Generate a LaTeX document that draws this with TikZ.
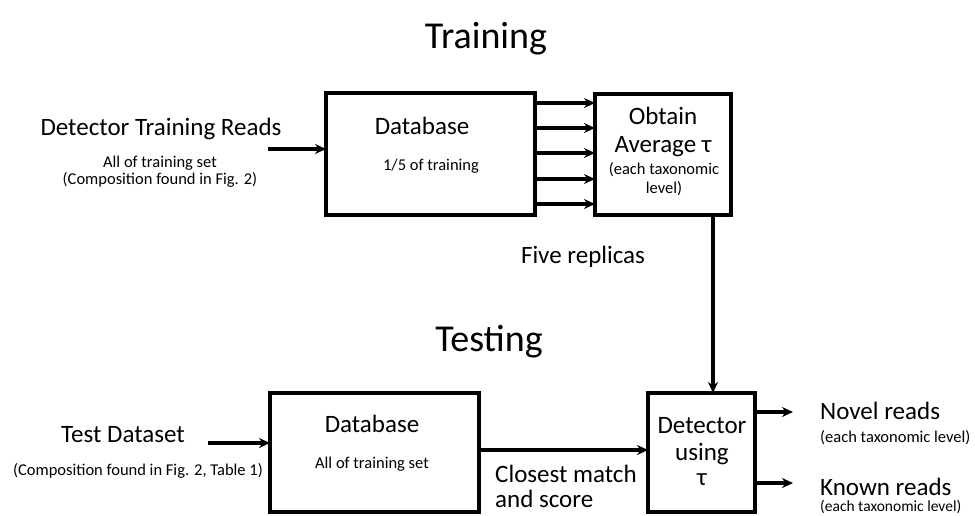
\documentclass[tikz,border=0pt]{standalone}
\usepackage{fontspec}
\setmainfont{Carlito}
\usetikzlibrary{arrows.meta}
\begin{document}
\begin{tikzpicture}[x=1pt,y=-1pt,
  box/.style={draw,line width=3.6pt},
  flow/.style={line width=3.2pt,-{Stealth[length=11pt,width=10pt]}},
  big/.style={font=\fontsize{25}{29}\selectfont,anchor=base,inner sep=0pt},
  small/.style={font=\fontsize{16.5}{19}\selectfont,anchor=base,inner sep=0pt},
  tiny/.style={font=\fontsize{15.5}{18}\selectfont,anchor=base west,inner sep=0pt},
  title/.style={font=\fontsize{38}{44}\selectfont,anchor=base,inner sep=0pt}]
\useasboundingbox (0,0) rectangle (975,515);

% section titles
\node[title] (ttrain) at (486,48) {Training};
\node[title] (ttest) at (489,351) {Testing};

% training stage
\node[big] (dtr) at (161,135) {Detector Training Reads};
\node[small] (dtr1) at (160,167) {All of training set};
\node[small] (dtr2) at (160,184) {(Composition found in Fig. 2)};
\coordinate (dtrout) at (268,149);

\draw[box] (326,93) rectangle (535,215);
\coordinate (db1W) at (326,149);
\node[big] (db1t) at (422,134) {Database};
\node[small] (db1s) at (431,170) {1/5 of training};

\draw[box] (595,94) rectangle (731,215);
\node[big] (avg1) at (663,124) {Obtain};
\node[big] (avg2) at (663,152) {Average τ};
\node[small] (avg3) at (664,174) {(each taxonomic};
\node[small] (avg4) at (664,193) {level)};

\foreach \yy/\n in {103/a,128/b,153/c,179/d,204/e}{
  \coordinate (rs\n) at (535,\yy);
  \coordinate (re\n) at (595,\yy);
  \draw[flow] (rs\n) -- (re\n);
}

\node[big] (five) at (583,263) {Five replicas};

% testing stage
\node[big] (tds) at (123,442) {Test Dataset};
\node[small] (tds2) at (138,475) {(Composition found in Fig. 2, Table 1)};
\coordinate (tdsout) at (208,443);

\draw[box] (270,393) rectangle (479,512);
\coordinate (db2W) at (270,443);
\coordinate (db2E) at (479,450);
\node[big] (db2t) at (372,432) {Database};
\node[small] (db2s) at (372,468) {All of training set};

\draw[box] (648,393) rectangle (755,512);
\coordinate (detW) at (648,450);
\coordinate (detN) at (713,393);
\coordinate (avgS) at (713,215);
\node[big] (det1) at (702,433) {Detector};
\node[big] (det2) at (702,460) {using};
\node[big] (det3) at (702,485) {τ};

\node[big,anchor=base west] (cm1) at (495,482) {Closest match};
\node[big,anchor=base west] (cm2) at (495,507) {and score};

\coordinate (o1s) at (755,412);
\coordinate (o1e) at (793,412);
\coordinate (o2s) at (755,483);
\coordinate (o2e) at (793,483);
\node[big,anchor=base west] (nov) at (820,419) {Novel reads};
\node[small,anchor=base west] (nov2) at (820,442) {(each taxonomic level)};
\node[big,anchor=base west] (kno) at (820,495) {Known reads};
\node[tiny] (kno2) at (820,511) {(each taxonomic level)};

% connectors
\draw[flow] (dtrout) -- (db1W);
\draw[flow] (avgS) -- (detN);
\draw[flow] (tdsout) -- (db2W);
\draw[flow] (db2E) -- (detW);
\draw[flow] (o1s) -- (o1e);
\draw[flow] (o2s) -- (o2e);
\end{tikzpicture}
\end{document}
